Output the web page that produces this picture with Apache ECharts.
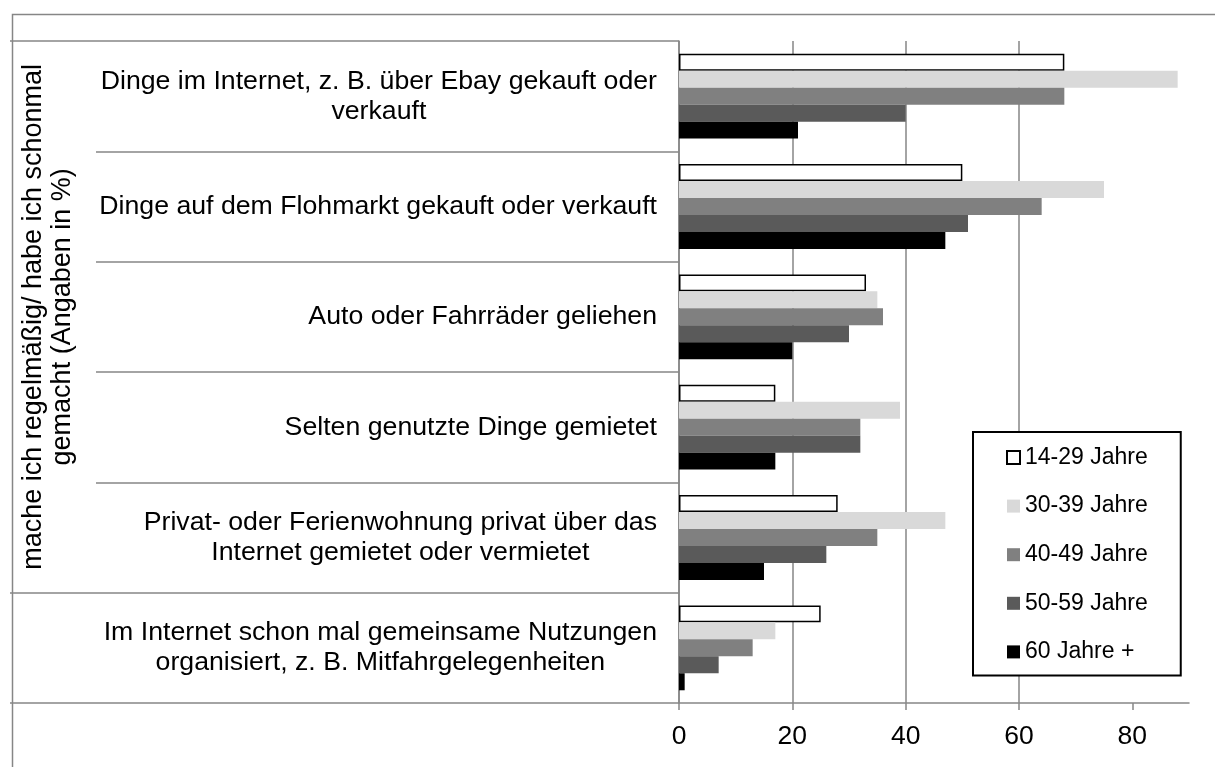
<!DOCTYPE html>
<html><head><meta charset="utf-8">
<script src="https://cdn.jsdelivr.net/npm/echarts@6/dist/echarts.min.js"></script>
<style>html,body{margin:0;padding:0;background:#fff}#c{width:1215px;height:767px}</style>
</head><body><div id="c"></div>
<script>
// ---- data ----
const categories = [
  'Dinge im Internet, z. B. über Ebay gekauft oder\nverkauft',
  'Dinge auf dem Flohmarkt gekauft oder verkauft',
  'Auto oder Fahrräder geliehen',
  'Selten genutzte Dinge gemietet',
  'Privat- oder Ferienwohnung privat über das\nInternet gemietet oder vermietet',
  'Im Internet schon mal gemeinsame Nutzungen\norganisiert, z. B. Mitfahrgelegenheiten'
];
const seriesNames = ['14-29 Jahre', '30-39 Jahre', '40-49 Jahre', '50-59 Jahre', '60 Jahre +'];
const v14_29  = [68, 50, 33, 17, 28, 25];
const v30_39  = [88, 75, 35, 39, 47, 17];
const v40_49  = [68, 64, 36, 32, 35, 13];
const v50_59  = [40, 51, 30, 32, 26, 7];
const v60plus = [21, 47, 20, 17, 15, 1];
const xTicks = [0, 20, 40, 60, 80];
const groupTitle = 'mache ich regelmäßig/ habe ich schonmal\ngemacht (Angaben in %)';
const groupBounds = [0, 5, 6];

// ---- styles ----
const FONT = "'Liberation Sans', Arial, sans-serif";
const GRAY = '#868686';
const colors = ['#ffffff', '#d9d9d9', '#808080', '#5a5a5a', '#000000'];
const values = [v14_29, v30_39, v40_49, v50_59, v60plus];

const chart = echarts.init(document.getElementById('c'), null, {renderer: 'canvas'});
const series = seriesNames.map((name, i) => ({
  name: name,
  type: 'bar',
  yAxisIndex: 0,
  data: values[i],
  barGap: '0%',
  barCategoryGap: '23.08%',
  itemStyle: i === 0 ? {color: colors[i], borderColor: '#000', borderWidth: 1.5}
                     : {color: colors[i], borderWidth: 0},
  emphasis: {disabled: true}
}));

chart.setOption({
  animation: false,
  backgroundColor: '#fff',
  textStyle: {fontFamily: FONT},
  graphic: [{
    type: 'rect', left: 10, top: 12, z: -10,
    shape: {width: 1400, height: 900},
    style: {fill: 'none', stroke: GRAY, lineWidth: 1.5}
  }],
  grid: {left: 679, right: 26, top: 41, bottom: 64, containLabel: false},
  xAxis: {
    type: 'value', min: 0, max: 90, interval: 20,
    axisLine: {show: true, onZero: false, lineStyle: {color: GRAY, width: 1.5}},
    axisTick: {show: true, length: 7, customValues: xTicks, lineStyle: {color: GRAY, width: 1.5}},
    axisLabel: {customValues: xTicks, fontSize: 26.5, color: '#000', margin: 20, fontFamily: FONT},
    splitLine: {show: true, showMaxLine: false, lineStyle: {color: GRAY, width: 1.5}}
  },
  yAxis: [{
    type: 'category', inverse: true, data: categories,
    axisLine: {show: true, onZero: false, lineStyle: {color: GRAY, width: 1.5}},
    axisTick: {show: true, length: 583, alignWithLabel: false, lineStyle: {color: GRAY, width: 1.5}},
    axisLabel: {
      margin: 22, align: 'right',
      formatter: v => '{c|' + v + '}',
      rich: {c: {align: 'center', fontSize: 26.7, lineHeight: 30, color: '#000', fontFamily: FONT}}
    },
    splitLine: {show: false}
  }, {
    type: 'value', inverse: true, min: groupBounds[0], max: groupBounds[groupBounds.length - 1],
    position: 'left', offset: 0,
    axisLine: {show: false, onZero: false},
    axisTick: {show: true, length: 669, customValues: groupBounds, lineStyle: {color: GRAY, width: 1.5}},
    axisLabel: {
      customValues: [(groupBounds[0] + groupBounds[1]) / 2],
      formatter: () => groupTitle,
      rotate: 90, margin: 602, fontSize: 27, lineHeight: 29, color: '#000', fontFamily: FONT
    },
    splitLine: {show: false}
  }],
  legend: {
    orient: 'vertical', left: 973, top: 432,
    padding: [14, 33, 12, 33], itemGap: 25.6, itemWidth: 13, itemHeight: 13,
    icon: 'rect', data: seriesNames,
    textStyle: {fontSize: 23, color: '#000', fontFamily: FONT},
    borderColor: '#000', borderWidth: 2, backgroundColor: '#fff'
  },
  series: series
});
</script>
</body></html>
